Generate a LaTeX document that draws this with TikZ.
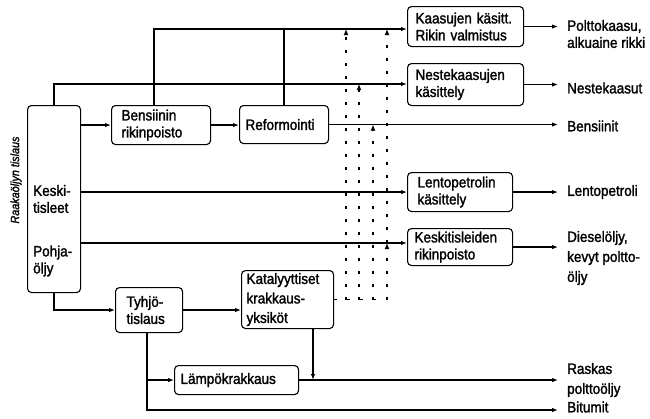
\documentclass[tikz,border=0pt]{standalone}
\usepackage{fontspec}
\setmainfont{Liberation Sans}[FakeBold=1.6, FakeStretch=0.9]
\usetikzlibrary{arrows.meta}
\begin{document}
\begin{tikzpicture}[x=1pt,y=-1pt,
  txt/.style={font=\fontsize{15}{17}\selectfont, inner sep=0pt},
  box/.style={draw, line width=1.1pt, rounded corners=4pt, anchor=north west,
    align=left, font=\fontsize{15}{17}\selectfont, inner ysep=0pt},
  conn/.style={line width=1.2pt},
  arr/.style={conn, -{Latex[length=6pt,width=4.5pt]}},
  feed/.style={line width=1.2pt, dash pattern=on 3pt off 10pt},
  feedarr/.style={feed, -{Latex[length=6pt,width=5pt]}},
  prodlabel/.style={txt, anchor=west, align=left},
]
\useasboundingbox (0,0) rectangle (650,418);

% process units
\node[box, minimum width=116pt, minimum height=40pt, inner xsep=8pt, text width=100pt] (kaas) at (407,6) {Kaasujen käsitt.\\Rikin valmistus};
\node[box, minimum width=116pt, minimum height=42pt, inner xsep=8pt, text width=100pt] (nest) at (407,63) {Nestekaasujen\\käsittely};
\node[box, minimum width=105pt, minimum height=39pt, inner xsep=10pt, text width=85pt] (lent) at (407,172) {Lentopetrolin\\käsittely};
\node[box, minimum width=105pt, minimum height=37pt, inner xsep=7pt, text width=91pt] (kesk) at (407,228) {Keskitisleiden\\rikinpoisto};
\node[box, minimum width=99pt, minimum height=39pt, inner xsep=10pt, text width=79pt] (bens) at (111,105) {Bensiinin\\rikinpoisto};
\node[box, minimum width=89pt, minimum height=38pt, inner xsep=6pt, text width=77pt] (refo) at (239,105) {Reformointi};
\node[box, minimum width=53pt, minimum height=187pt] (col) at (27,105) {};
\node[txt, anchor=west, align=left] (colk) at (33,199) {Keski-\\tisleet};
\node[txt, anchor=west, align=left] (colp) at (33,261) {Pohja-\\öljy};
\node[txt, rotate=90, font=\fontsize{12}{14}\selectfont\itshape] (tisl) at (16,180) {Raakaöljyn tislaus};
\node[box, minimum width=67pt, minimum height=45pt, inner xsep=11pt, text width=45pt] (tyhj) at (115,287) {Tyhjö-\\tislaus};
\node[box, minimum width=92pt, minimum height=58pt, inner xsep=5pt, text width=82pt, font=\fontsize{15}{19.5}\selectfont] (kata) at (241,270) {Katalyyttiset\\krakkaus-\\yksiköt};
\node[box, minimum width=124pt, minimum height=29pt, inner xsep=6pt, text width=112pt] (lamp) at (174,365) {Lämpökrakkaus};

% products
\node[prodlabel] (pk) at (567,34) {Polttokaasu,\\alkuaine rikki};
\node[prodlabel] (nk) at (567,88) {Nestekaasut};
\node[prodlabel] (bz) at (567,126) {Bensiinit};
\node[prodlabel] (lp) at (567,192) {Lentopetroli};
\node[prodlabel, font=\fontsize{15}{20}\selectfont] (dz) at (567,258) {Dieselöljy,\\kevyt poltto-\\öljy};
\node[prodlabel, font=\fontsize{15}{20}\selectfont] (rk) at (567,380) {Raskas\\polttoöljy};
\node[prodlabel] (bt) at (567,407) {Bitumit};

% levels of the collecting lines
\coordinate (ya) at (0,29);
\coordinate (yb) at (0,84);
\coordinate (yp) at (0,243);
\coordinate (ybit) at (0,410);
\coordinate (xb) at (154,0);
\coordinate (xt) at (147,0);
\coordinate (xk) at (313,0);
\coordinate (d1) at (346,0);
\coordinate (d2) at (359,0);
\coordinate (d3) at (373,0);
\coordinate (d4) at (387,0);

% gas lines at the top
\draw[arr] (bens.north -| xb) -- (xb |- ya) -- (kaas.west |- ya);
\draw[conn] (refo.north) -- (refo.north |- ya);
\draw[arr] (col.north) |- (nest.west |- yb);

% main flows
\draw[arr] (col.east |- bens.west) -- (bens.west);
\draw[arr] (bens.east) -- (bens.east -| refo.west);
\draw[arr, shorten >=9pt] (refo.east) -- (refo.east -| bz.west);
\draw[arr] (col.east |- lent.west) -- (lent.west);
\draw[arr] (col.east |- yp) -- (kesk.west |- yp);
\draw[arr, shorten >=9pt] (kaas.east) -- (kaas.east -| pk.west);
\draw[arr, shorten >=9pt] (nest.east) -- (nest.east -| nk.west);
\draw[arr, shorten >=9pt] (lent.east) -- (lent.east -| lp.west);
\draw[arr, shorten >=9pt] (kesk.east) -- (kesk.east -| dz.west);

% bottoms
\draw[arr] (col.south) |- (tyhj.west);
\draw[arr] (tyhj.east) -- (tyhj.east -| kata.west);
\draw[arr, shorten >=9pt] (tyhj.south -| xt) |- (bt.west |- ybit);
\draw[arr] (xt |- lamp.west) -- (lamp.west);
\draw[arr] (kata.south -| xk) -- (xk |- lamp.east);
\draw[arr, shorten >=9pt] (lamp.east) -- (lamp.east -| rk.west);

% cracked products returned upwards
\draw[feed] (kata.east) -- (kata.east -| d4);
\draw[feedarr] (kata.east -| d1) -- (d1 |- ya);
\draw[feedarr] (kata.east -| d2) -- (d2 |- yb);
\draw[feedarr] (kata.east -| d3) -- (d3 |- refo.east);
\draw[feedarr] (kata.east -| d4) -- (d4 |- yp);
\draw[feedarr] (d4 |- yp) -- (d4 |- ya);
\end{tikzpicture}
\end{document}
